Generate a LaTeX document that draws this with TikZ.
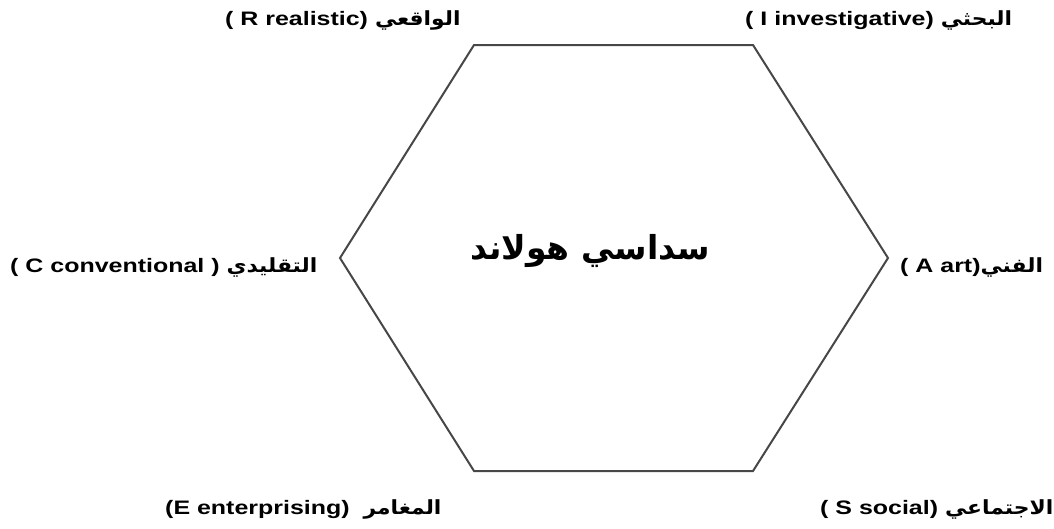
\documentclass[tikz,border=0pt]{standalone}
\usepackage{fontspec}
\setmainfont{Liberation Sans}
\newfontfamily\latinf[FakeStretch=1.28]{Liberation Sans}
\newfontfamily\arabicfont[Script=Arabic,FakeStretch=1.12]{DejaVu Sans}
\newfontfamily\arabicbig[Script=Arabic]{DejaVu Sans}
\TeXXeTstate=1
\begin{document}
\begin{tikzpicture}[x=1pt,y=-1pt,
  lbl/.style={anchor=west,inner sep=0pt,font=\fontsize{19.5}{22}\selectfont\bfseries},
  hexline/.style={draw=black!72,line width=2pt,line join=miter}]
\useasboundingbox (0,0) rectangle (1054,528);
% hexagon vertices
\coordinate (tl) at (474,45);
\coordinate (tr) at (753,45);
\coordinate (r) at (888,258);
\coordinate (br) at (753,471);
\coordinate (bl) at (474,471);
\coordinate (l) at (340,258);
\draw[hexline] (tl) -- (tr) -- (r) -- (br) -- (bl) -- (l) -- cycle;
% centre title
\node[inner sep=0pt,font=\fontsize{33}{36}\selectfont\bfseries] (title) at (590,251)
  {\arabicbig\beginR سداسي هولاند\endR};
% labels
\node[lbl] (R) at (225,20) {\latinf ( R realistic) \arabicfont\beginR الواقعي\endR};
\node[lbl] (I) at (745,20) {\latinf ( I investigative) \arabicfont\beginR البحثي\endR};
\node[lbl] (C) at (10,267) {\latinf ( C conventional ) \arabicfont\beginR التقليدي\endR};
\node[lbl] (A) at (900,267) {\latinf ( A art)\arabicfont\beginR الفني\endR};
\node[lbl] (E) at (165,509) {\latinf (E enterprising)\ \ \arabicfont\beginR المغامر\endR};
\node[lbl] (S) at (820,509) {\latinf ( S social) \arabicfont\beginR الاجتماعي\endR};
\end{tikzpicture}
\end{document}
